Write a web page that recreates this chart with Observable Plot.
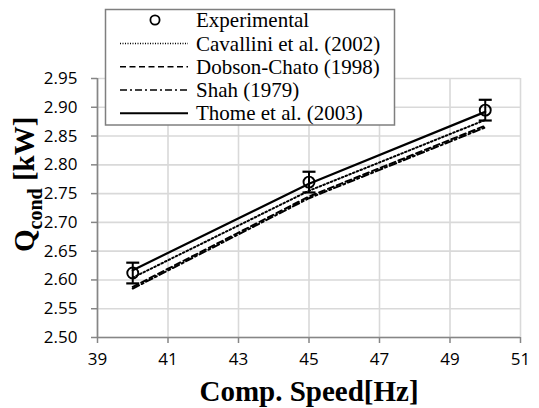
<!DOCTYPE html>
<html>
<head>
<meta charset="utf-8">
<script src="https://cdn.jsdelivr.net/npm/d3@7"></script>
<script src="https://cdn.jsdelivr.net/npm/@observablehq/plot@0.6"></script>
<style>
  html, body { margin: 0; padding: 0; background: white; }
  #chart { width: 539px; height: 408px; }
</style>
</head>
<body>
<div id="chart"></div>
<script>
// ---- data ----
const speeds = [40, 45, 50];
const experimental = [2.612, 2.770, 2.895];
const expError = [0.018, 0.018, 0.018];
const cavallini = [2.604, 2.755, 2.878];
const dobsonChato = [2.588, 2.745, 2.868];
const shah = [2.585, 2.742, 2.865];
const thome = [2.617, 2.767, 2.892];
const xTicks = [39, 41, 43, 45, 47, 49, 51];
const yTicks = [2.50, 2.55, 2.60, 2.65, 2.70, 2.75, 2.80, 2.85, 2.90, 2.95];
const legendNames = ["Experimental", "Cavallini et al. (2002)", "Dobson-Chato (1998)", "Shah (1979)", "Thome et al. (2003)"];
const xTitle = "Comp. Speed[Hz]";
const yTitleMain = "Q";
const yTitleSub = "cond";
const yTitleUnit = " [kW]";

// ---- tables built from the arrays ----
const expData = speeds.map((x, i) => ({x, y: experimental[i], lo: experimental[i] - expError[i], hi: experimental[i] + expError[i]}));
const series = [
  {name: legendNames[1], values: cavallini, dash: "1.6 2.4"},
  {name: legendNames[2], values: dobsonChato, dash: "6 3.5"},
  {name: legendNames[3], values: shah, dash: "7 3 2 3"},
  {name: legendNames[4], values: thome, dash: null}
];
const lineData = series.map(s => speeds.map((x, i) => ({x, y: s.values[i]})));

const capSymbol = {
  draw(ctx) { ctx.moveTo(-6.5, 0); ctx.lineTo(6.5, 0); }
};

const axisGray = "#868686";
const gridGray = "#d9d9d9";

const plot = Plot.plot({
  width: 539,
  height: 408,
  marginLeft: 97,
  marginRight: 19,
  marginTop: 78,
  marginBottom: 71,
  x: {domain: [39, 51]},
  y: {domain: [2.5, 2.95]},
  style: {fontFamily: "'Open Sans', sans-serif", fontSize: "17px", color: "black", background: "white"},
  marks: [
    Plot.gridX(xTicks, {stroke: gridGray, strokeOpacity: 1, strokeWidth: 1.6}),
    Plot.gridY(yTicks, {stroke: gridGray, strokeOpacity: 1, strokeWidth: 1.6}),
    Plot.axisY(yTicks, {tickSize: 6, tickPadding: 14, tickFormat: d3.format(".2f"), stroke: axisGray, strokeWidth: 1.5, label: null, fontSize: 17, fill: "black"}),
    Plot.axisX(xTicks, {tickSize: 6, tickPadding: 9, tickFormat: d => String(d), stroke: axisGray, strokeWidth: 1.5, label: null, fontSize: 17, fill: "black"}),
    Plot.ruleX([39], {stroke: axisGray, strokeWidth: 1.6}),
    Plot.ruleY([2.5], {stroke: axisGray, strokeWidth: 1.6}),
    ...lineData.map((d, i) => Plot.line(d, {x: "x", y: "y", stroke: "black", strokeWidth: series[i].dash ? 2 : 2.2, strokeDasharray: series[i].dash})),
    Plot.ruleX(expData, {x: "x", y1: "lo", y2: "hi", stroke: "black", strokeWidth: 2}),
    Plot.dot(expData, {x: "x", y: "lo", symbol: capSymbol, stroke: "black", strokeWidth: 2.2, r: 5}),
    Plot.dot(expData, {x: "x", y: "hi", symbol: capSymbol, stroke: "black", strokeWidth: 2.2, r: 5}),
    Plot.dot(expData, {x: "x", y: "y", r: 5.5, stroke: "black", strokeWidth: 1.9, fill: "none"})
  ]
});

document.getElementById("chart").appendChild(plot);

const svg = d3.select(plot);
const serif = "'Liberation Serif', 'Times New Roman', serif";

// x axis title
svg.append("text")
  .attr("x", 309).attr("y", 401)
  .attr("text-anchor", "middle")
  .style("font-family", serif).attr("font-weight", "bold").style("font-size", "29px")
  .attr("fill", "black")
  .text(xTitle);

// y axis title with subscript
const yt = svg.append("text")
  .attr("transform", "translate(34,252) rotate(-90)")
  .attr("text-anchor", "start")
  .style("font-family", serif).attr("font-weight", "bold").style("font-size", "29px")
  .attr("fill", "black");
yt.append("tspan").text(yTitleMain);
yt.append("tspan").style("font-size", "20px").attr("dy", 8).text(yTitleSub);
yt.append("tspan").attr("dy", -8).text(yTitleUnit);

// legend (overlapping the plot as in the reference)
const lg = svg.append("g");
lg.append("rect")
  .attr("x", 105.5).attr("y", 9.5).attr("width", 289).attr("height", 115.5)
  .attr("fill", "white").attr("stroke", "#7f7f7f").attr("stroke-width", 1.5);
const rowY = [20, 43.5, 66.8, 90, 113.2];
lg.append("circle").attr("cx", 155).attr("cy", rowY[0]).attr("r", 4.6)
  .attr("fill", "none").attr("stroke", "black").attr("stroke-width", 1.8);
series.forEach((s, i) => {
  lg.append("line")
    .attr("x1", 120).attr("x2", 188)
    .attr("y1", rowY[i + 1]).attr("y2", rowY[i + 1])
    .attr("stroke", "black").attr("stroke-width", s.dash ? 1.6 : 2)
    .attr("stroke-dasharray", s.dash ? (i === 0 ? "1 1.5" : s.dash) : null);
});
legendNames.forEach((n, i) => {
  lg.append("text")
    .attr("x", 196).attr("y", rowY[i] + 7)
    .attr("text-anchor", "start")
    .style("font-family", serif).style("font-size", "21px").attr("fill", "black")
    .text(n);
});
</script>
</body>
</html>
